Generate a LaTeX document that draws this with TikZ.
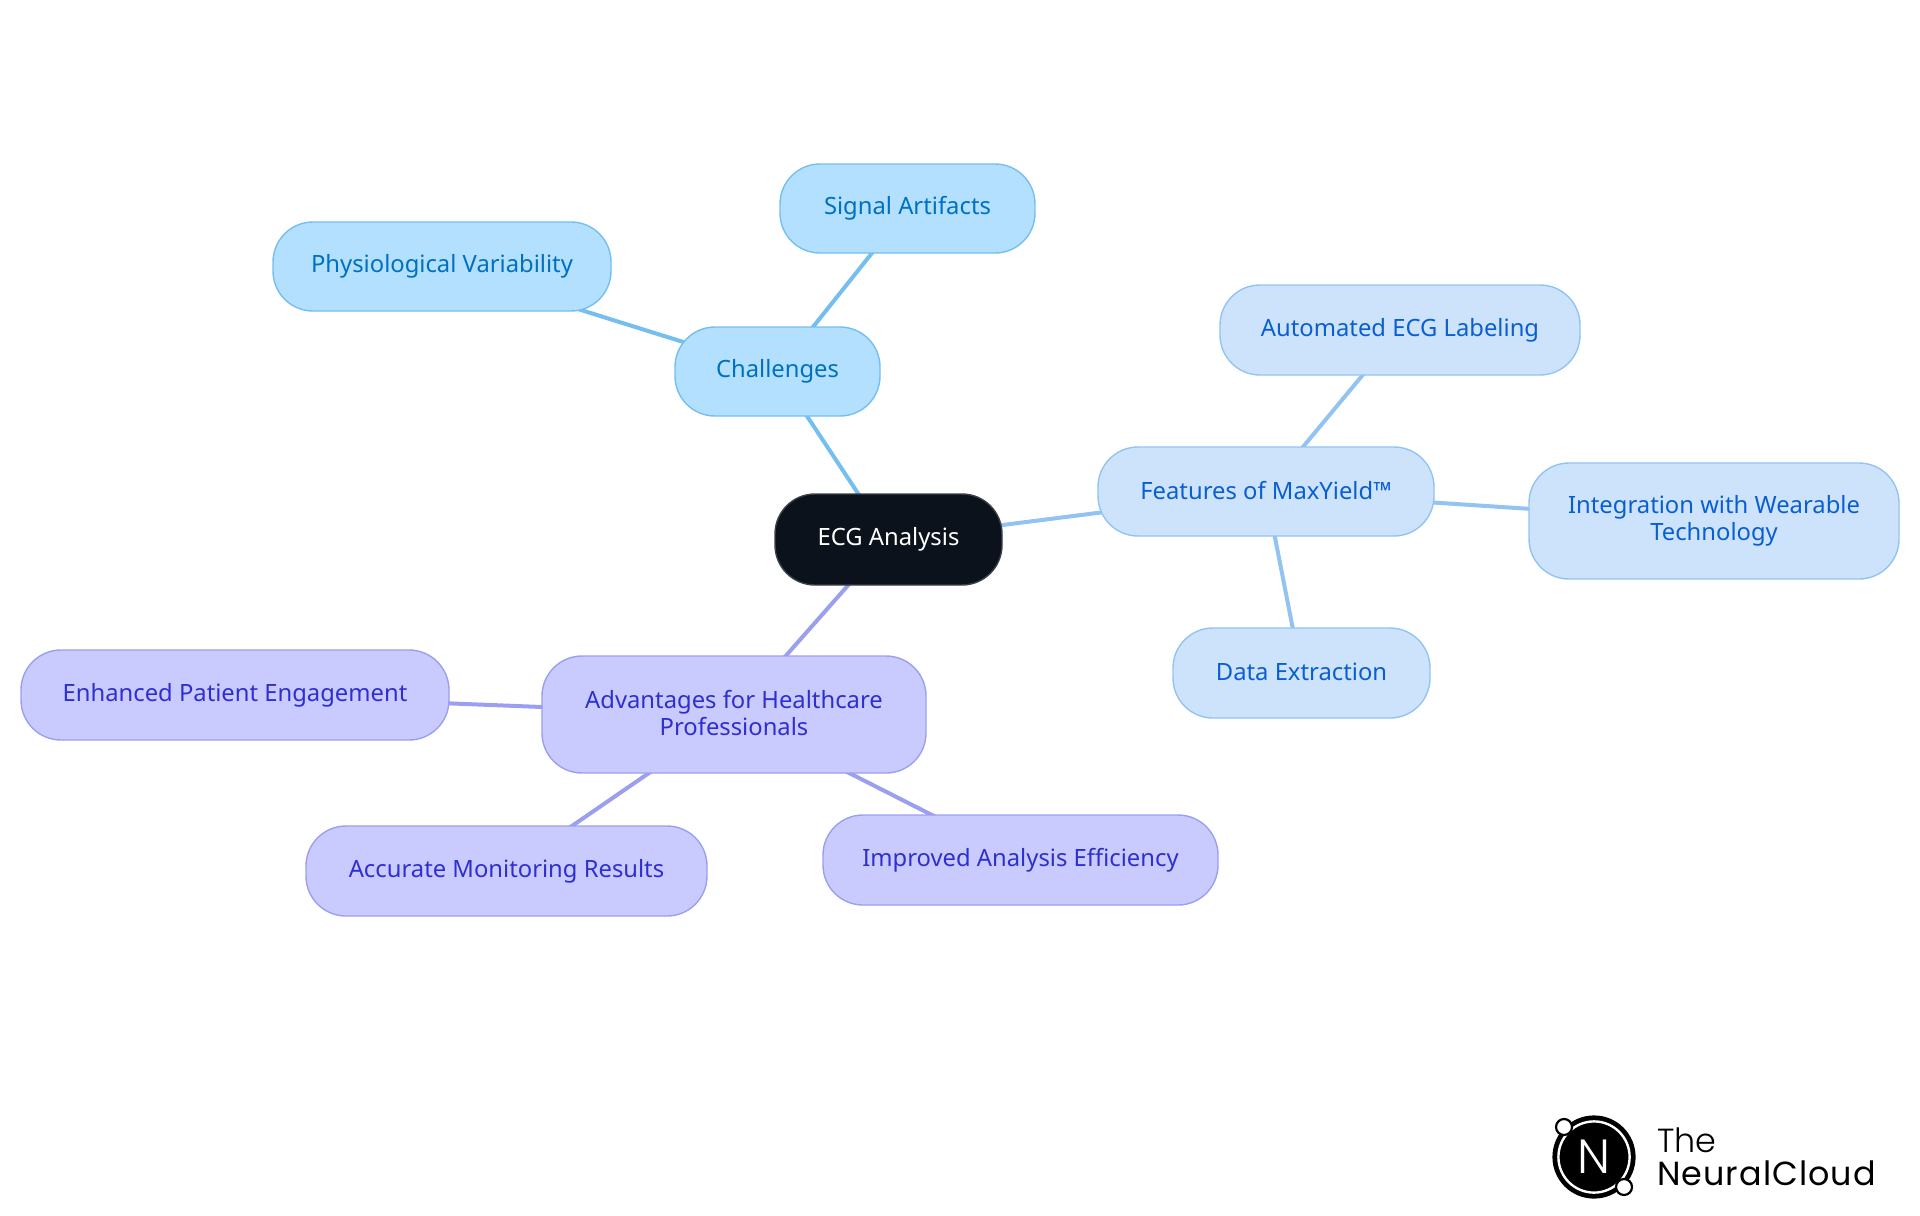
\documentclass[tikz,border=0pt]{standalone}
\usepackage{fontspec}
\setmainfont{Noto Sans}
\newfontfamily\logolight{Poppins Light}
\newfontfamily\logoreg[LetterSpace=3]{Poppins}
\usetikzlibrary{backgrounds}
\definecolor{rootfill}{HTML}{0B121B}
\definecolor{rootline}{HTML}{3B4048}
\definecolor{cfill}{HTML}{B3E0FF}
\definecolor{cline}{HTML}{74BEF0}
\definecolor{ctext}{HTML}{0070C0}
\definecolor{ffill}{HTML}{CDE3FC}
\definecolor{fline}{HTML}{93C3F2}
\definecolor{ftext}{HTML}{0A5FD0}
\definecolor{pfill}{HTML}{C9CBFE}
\definecolor{pline}{HTML}{9B9FF0}
\definecolor{ptext}{HTML}{2F2FD0}
\tikzset{
  x=0.5pt,y=-0.5pt,
  pill/.style={rectangle,rounded corners=20pt,draw,line width=0.7pt,inner sep=0pt,
    align=center,font=\fontsize{11.9}{13.5}\selectfont,
    execute at begin node={\rule{0pt}{9pt}},
    execute at end node={\rule[-1.5pt]{0pt}{1.5pt}}},
  rootn/.style={pill,fill=rootfill,draw=rootline,text=white},
  cn/.style={pill,fill=cfill,draw=cline,text=ctext},
  fn/.style={pill,fill=ffill,draw=fline,text=ftext},
  pn/.style={pill,fill=pfill,draw=pline,text=ptext},
  box/.style 2 args={minimum width=#1*0.5pt,minimum height=#2*0.5pt},
  cedge/.style={draw=cline,line width=2pt},
  fedge/.style={draw=fline,line width=2pt},
  pedge/.style={draw=pline,line width=2pt},
}
\begin{document}
\begin{tikzpicture}
\useasboundingbox (0,0) rectangle (1920,1215);
\node[rootn,box={227}{91}] (root) at (888.5,539.5) {ECG Analysis};
\node[cn,box={205}{89}] (chal) at (777.5,371.5) {Challenges};
\node[cn,box={255}{89}] (sig) at (907.5,208.5) {Signal Artifacts};
\node[cn,box={338}{89}] (phys) at (442,266.5) {Physiological Variability};
\node[fn,box={336}{89}] (feat) at (1266,491.5) {Features of MaxYield™};
\node[fn,box={360}{90}] (auto) at (1400,330) {Automated ECG Labeling};
\node[fn,box={370}{116}] (integ) at (1714,521) {Integration with Wearable\\Technology};
\node[fn,box={257}{90}] (data) at (1301.5,673) {Data Extraction};
\node[pn,box={384}{117}] (adv) at (734,714.5) {Advantages for Healthcare\\Professionals};
\node[pn,box={428}{90}] (enh) at (235,695) {Enhanced Patient Engagement};
\node[pn,box={401}{90}] (acc) at (506.5,871) {Accurate Monitoring Results};
\node[pn,box={395}{90}] (imp) at (1020.5,860) {Improved Analysis Efficiency};
\begin{scope}[on background layer]
\draw[cedge] (root.center) -- (chal.center);
\draw[cedge] (chal.center) -- (sig.center);
\draw[cedge] (chal.center) -- (phys.center);
\draw[fedge] (root.center) -- (feat.center);
\draw[fedge] (feat.center) -- (auto.center);
\draw[fedge] (feat.center) -- (integ.center);
\draw[fedge] (feat.center) -- (data.center);
\draw[pedge] (root.center) -- (adv.center);
\draw[pedge] (adv.center) -- (enh.center);
\draw[pedge] (adv.center) -- (acc.center);
\draw[pedge] (adv.center) -- (imp.center);
\end{scope}
% logo
\fill[black] (1594,1157) circle[radius=20.8pt];
\draw[white,line width=1.2pt] (1594,1157) circle[radius=17.8pt];
\draw[black,line width=1.1pt,fill=white] (1564,1127) circle[radius=4pt];
\draw[black,line width=1.1pt,fill=white] (1624,1187) circle[radius=4pt];
\node[text=white,inner sep=0pt,font=\logolight\fontsize{24}{24}\selectfont] (logoN) at (1594,1157) {N};
\node[anchor=base west,inner sep=0pt,font=\logolight\fontsize{16.7}{17}\selectfont] (logoA) at (1657,1152) {The};
\node[anchor=base west,inner sep=0pt,font=\logoreg\fontsize{16.7}{17}\selectfont] (logoB) at (1657,1185) {NeuralCloud};
\end{tikzpicture}
\end{document}
